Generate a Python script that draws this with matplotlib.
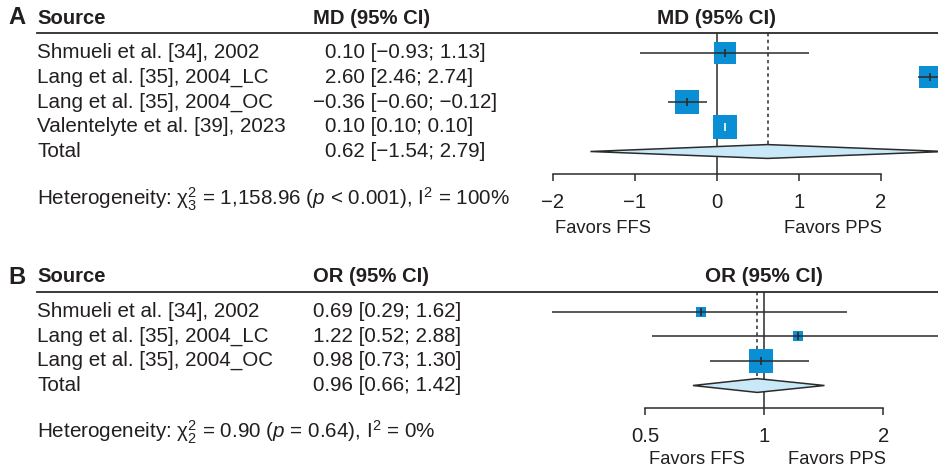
import matplotlib
matplotlib.use("Agg")
import matplotlib.pyplot as plt
from matplotlib.lines import Line2D
from matplotlib.patches import Polygon
import numpy as np

# ---------------- data ----------------
studies_a = ["Shmueli et al. [34], 2002", "Lang et al. [35], 2004_LC",
             "Lang et al. [35], 2004_OC", "Valentelyte et al. [39], 2023"]
md_est = [0.10, 2.60, -0.36, 0.10]
md_lo = [-0.93, 2.46, -0.60, 0.10]
md_hi = [1.13, 2.74, -0.12, 0.10]
md_w = [22.4, 24.4, 26.6, 26.6]
md_total = (0.62, -1.54, 2.79)
het_a = r"Heterogeneity: $\mathrm{\chi}^2_3$ = 1,158.96 ($p$ < 0.001), I$^2$ = 100%"
ticks_a = [-2, -1, 0, 1, 2]
ticklabels_a = ["\u22122", "\u22121", "0", "1", "2"]

studies_b = ["Shmueli et al. [34], 2002", "Lang et al. [35], 2004_LC",
             "Lang et al. [35], 2004_OC"]
or_est = [0.69, 1.22, 0.98]
or_lo = [0.29, 0.52, 0.73]
or_hi = [1.62, 2.88, 1.30]
or_w = [13.5, 13.5, 73.0]
or_total = (0.96, 0.66, 1.42)
het_b = r"Heterogeneity: $\mathrm{\chi}^2_2$ = 0.90 ($p$ = 0.64), I$^2$ = 0%"
ticks_b = [0.5, 1, 2]
ticklabels_b = ["0.5", "1", "2"]

# ---------------- style ----------------
plt.rcParams["font.family"] = ["Liberation Sans", "DejaVu Sans"]
plt.rcParams["mathtext.fontset"] = "custom"
plt.rcParams["mathtext.rm"] = "Liberation Sans"
plt.rcParams["mathtext.it"] = "Liberation Sans:italic"
plt.rcParams["mathtext.bf"] = "Liberation Sans:bold"

TXT = "#231f20"
LINE = "#2b2b2b"
BLUE = "#0a8fd5"
DIA = "#c9e9f8"
FS = 14.9      # study rows
FSH = 14.6     # bold headers
FSF = 13.2     # favors labels
FST = 14.6     # tick labels

W, H = 938, 468
fig = plt.figure(figsize=(W / 100, H / 100), dpi=100)


def fx(x):
    return x / W


def fy(y):
    return 1 - y / H


def ftext(x, y, s, **kw):
    kw.setdefault("fontsize", FS)
    kw.setdefault("color", TXT)
    kw.setdefault("va", "center")
    fig.text(fx(x), fy(y), s, **kw)


def axes_px(x0, y0, x1, y1):
    return fig.add_axes([fx(x0), fy(y1), (x1 - x0) / W, (y1 - y0) / H])


def fmt(v):
    return f"{v:.2f}".replace("-", "\u2212")


def ci_text(e, lo, hi):
    return f"{fmt(e)} [{fmt(lo)}; {fmt(hi)}]"


def panel(letter, top, row_h, studies, est, lo, hi, w, total, het, ticks,
          ticklabels, xlim, log, header, fav_y, fav_x, het_y, col_x, neg_shift):
    header_y = top
    line_y = top + 15
    first_row = line_y + 19.5
    rows = [first_row + i * row_h for i in range(len(studies) + 1)]
    has_neg = any(v < 0 for v in est)
    # left text
    ftext(8, header_y, letter, fontweight="bold", fontsize=FSH + 2.5)
    ftext(37, header_y, "Source", fontweight="bold", fontsize=FSH)
    ftext(col_x, header_y, header, fontweight="bold", fontsize=FSH)
    fig.add_artist(Line2D([fx(37), fx(938)], [fy(line_y), fy(line_y)],
                          color=LINE, lw=1.3))
    for i, s in enumerate(studies):
        ftext(37, rows[i], s)
        x = col_x + (neg_shift if has_neg else 0) - (neg_shift if est[i] < 0 else 0)
        ftext(x, rows[i], ci_text(est[i], lo[i], hi[i]))
    ftext(37, rows[-1], "Total")
    ftext(col_x + (neg_shift if has_neg else 0), rows[-1], ci_text(*total))
    ftext(37, het_y, het)

    # forest axes
    axis_y = rows[-1] + 22
    ax = axes_px(540, line_y, 938, axis_y)
    n = len(studies)
    ylo = (line_y - first_row) / row_h
    yhi = (axis_y - first_row) / row_h
    if log:
        ax.set_xscale("log")
    ax.set_xlim(*xlim)
    ax.set_ylim(yhi, ylo)
    ax.patch.set_alpha(0)
    for sp in ("top", "left", "right"):
        ax.spines[sp].set_visible(False)
    ax.spines["bottom"].set_bounds(ticks[0], ticks[-1])
    ax.spines["bottom"].set_color(LINE)
    ax.spines["bottom"].set_linewidth(1.1)
    ax.set_yticks([])
    ax.set_xticks(ticks)
    ax.set_xticklabels(ticklabels)
    ax.xaxis.set_minor_locator(matplotlib.ticker.NullLocator())
    ax.tick_params(axis="x", direction="out", length=5, width=1.1, color=LINE,
                   labelsize=FST, labelcolor=TXT, pad=9)

    null = 1 if log else 0
    ax.axvline(null, color=LINE, lw=1.1, zorder=1)
    # study rows
    wmax = max(w)
    maxside = 24 * 0.72
    for i in range(n):
        side = maxside * np.sqrt(w[i] / wmax)
        ax.scatter([est[i]], [i], marker="s", s=side ** 2, color=BLUE,
                   linewidths=0, zorder=3)
        ax.plot([lo[i], hi[i]], [i, i], color=LINE, lw=1.1, zorder=4,
                solid_capstyle="butt")
        tcol = "white" if lo[i] == hi[i] else LINE
        ax.plot([est[i]], [i], marker="|", markersize=6, mew=1.2, color=tcol,
                zorder=5, linestyle="none")
    # diamond
    te, tl, th = total
    dh = 0.28
    ax.add_patch(Polygon([[tl, n], [te, n - dh], [th, n], [te, n + dh]],
                         closed=True, facecolor=DIA, edgecolor=LINE, lw=1.1,
                         zorder=3))
    ax.plot([te, te], [ylo, n - dh], color=LINE, lw=1.1, ls=(0, (2.2, 2.2)),
            zorder=2)
    # header above forest
    ax.text(null, fy(header_y), header, fontweight="bold", fontsize=FS,
            color=TXT, ha="center", va="center",
            transform=matplotlib.transforms.blended_transform_factory(
                ax.transData, fig.transFigure))
    ftext(fav_x[0], fav_y, "Favors FFS", ha="center", fontsize=FSF)
    ftext(fav_x[1], fav_y, "Favors PPS", ha="center", fontsize=FSF)
    return ax


panel("A", 18, 24.75, studies_a, md_est, md_lo, md_hi, md_w, md_total, het_a,
      ticks_a, ticklabels_a, (-2.155, 2.699), False, "MD (95% CI)",
      228, (603, 833), 199, 313, 12)
panel("B", 277, 24.67, studies_b, or_est, or_lo, or_hi, or_w, or_total, het_b,
      ticks_b, ticklabels_b, (0.2708, 2.751), True, "OR (95% CI)",
      460, (697, 837), 432, 313, 0)

fig.savefig("out.png", dpi=100)
